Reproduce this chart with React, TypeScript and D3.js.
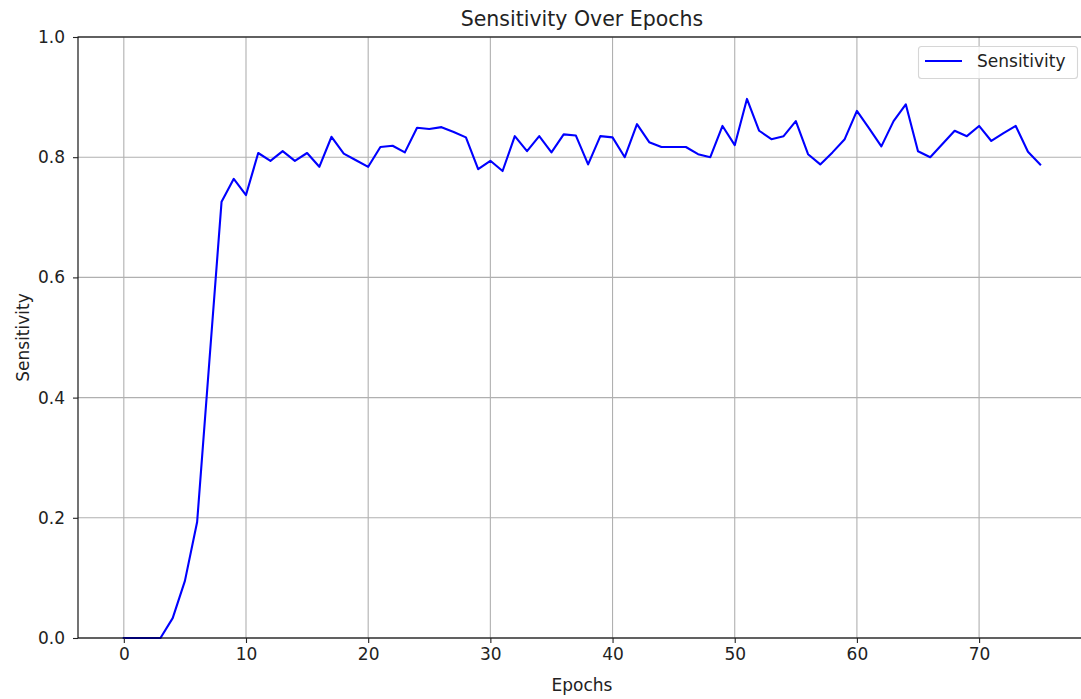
import { useEffect, useRef } from 'react'
import * as d3 from 'd3'

const epochs = d3.range(0, 76)
const sensitivity = [
  0, 0, 0, 0, 0.033, 0.095, 0.193, 0.46, 0.726, 0.764,
  0.737, 0.807, 0.794, 0.81, 0.794, 0.807, 0.784, 0.834, 0.806, 0.795,
  0.784, 0.817, 0.819, 0.808, 0.849, 0.847, 0.85, 0.842, 0.833, 0.78,
  0.794, 0.777, 0.835, 0.81, 0.835, 0.808, 0.838, 0.836, 0.788, 0.835,
  0.833, 0.8, 0.855, 0.825, 0.817, 0.817, 0.817, 0.805, 0.8, 0.852,
  0.82, 0.897, 0.844, 0.83, 0.835, 0.86, 0.805, 0.788, 0.808, 0.83,
  0.877, 0.848, 0.818, 0.86, 0.888, 0.81, 0.8, 0.822, 0.844, 0.835,
  0.852, 0.827, 0.84, 0.852, 0.809, 0.788,
]
const xTicks = [0, 10, 20, 30, 40, 50, 60, 70]
const yTicks = [0, 0.2, 0.4, 0.6, 0.8, 1.0]

const W = 1081
const H = 699
const margin = { left: 78, top: 37, right: 1086, bottom: 638 }
const font = 'DejaVu Sans, sans-serif'
const fs = 17

const App = () => {
  const svgRef = useRef(null)

  useEffect(() => {
    const svg = d3.select(svgRef.current)
    svg.selectAll('*').remove()

    const x = d3.scaleLinear().domain([-3.75, 78.75]).range([margin.left, margin.right])
    const y = d3.scaleLinear().domain([0, 1]).range([margin.bottom, margin.top])

    // grid
    svg.append('g').selectAll('line').data(xTicks).join('line')
      .attr('x1', d => x(d)).attr('x2', d => x(d))
      .attr('y1', margin.top).attr('y2', margin.bottom)
      .attr('stroke', '#b0b0b0').attr('stroke-width', 1.1)
    svg.append('g').selectAll('line').data(yTicks).join('line')
      .attr('x1', margin.left).attr('x2', margin.right)
      .attr('y1', d => y(d)).attr('y2', d => y(d))
      .attr('stroke', '#b0b0b0').attr('stroke-width', 1.1)

    // line
    const line = d3.line<number>()
      .x((d, i) => x(epochs[i]))
      .y(d => y(d))
    svg.append('path')
      .datum(sensitivity)
      .attr('d', line)
      .attr('fill', 'none')
      .attr('stroke', '#0000ff')
      .attr('stroke-width', 2.1)
      .attr('stroke-linejoin', 'round')
      .attr('stroke-linecap', 'square')

    // spines
    svg.append('rect')
      .attr('x', margin.left).attr('y', margin.top)
      .attr('width', margin.right - margin.left).attr('height', margin.bottom - margin.top)
      .attr('fill', 'none').attr('stroke', '#000').attr('stroke-width', 1.1)

    // axes
    const xAxis = svg.append('g').attr('transform', `translate(0,${margin.bottom})`)
      .call(d3.axisBottom(x).tickValues(xTicks).tickSize(5).tickPadding(5).tickFormat(d3.format('d')))
    xAxis.select('.domain').remove()

    const yAxis = svg.append('g').attr('transform', `translate(${margin.left},0)`)
      .call(d3.axisLeft(y).tickValues(yTicks).tickSize(5).tickPadding(8).tickFormat(d3.format('.1f')))
    yAxis.select('.domain').remove()

    svg.selectAll('.tick text').attr('font-family', font).attr('font-size', fs).attr('fill', '#222')
    svg.selectAll('.tick line').attr('stroke', '#222').attr('stroke-width', 1.1)

    // labels
    svg.append('text').attr('x', (margin.left + margin.right) / 2).attr('y', 26)
      .attr('text-anchor', 'middle').attr('font-family', font).attr('font-size', 20.5)
      .attr('fill', '#222').text('Sensitivity Over Epochs')
    svg.append('text').attr('x', (margin.left + margin.right) / 2).attr('y', 691)
      .attr('text-anchor', 'middle').attr('font-family', font).attr('font-size', fs)
      .attr('fill', '#222').text('Epochs')
    svg.append('text')
      .attr('transform', `translate(29,${(margin.top + margin.bottom) / 2}) rotate(-90)`)
      .attr('text-anchor', 'middle').attr('font-family', font).attr('font-size', fs)
      .attr('fill', '#222').text('Sensitivity')

    // legend
    const lg = svg.append('g')
    lg.append('rect').attr('x', 918.5).attr('y', 46.5).attr('width', 159).attr('height', 32)
      .attr('rx', 3).attr('fill', 'white').attr('fill-opacity', 0.8)
      .attr('stroke', '#d6d6d6').attr('stroke-width', 1.1)
    lg.append('line').attr('x1', 925).attr('x2', 962).attr('y1', 61).attr('y2', 61)
      .attr('stroke', '#0000ff').attr('stroke-width', 2.1)
    lg.append('text').attr('x', 977).attr('y', 67).attr('font-family', font).attr('font-size', fs)
      .attr('fill', '#222').text('Sensitivity')
  }, [])

  return (
    <div style={{ position: 'absolute', left: 0, top: 0, width: W, height: H, overflow: 'hidden', background: 'white' }}>
      <svg ref={svgRef} width={W} height={H} />
    </div>
  )
}

export default App
